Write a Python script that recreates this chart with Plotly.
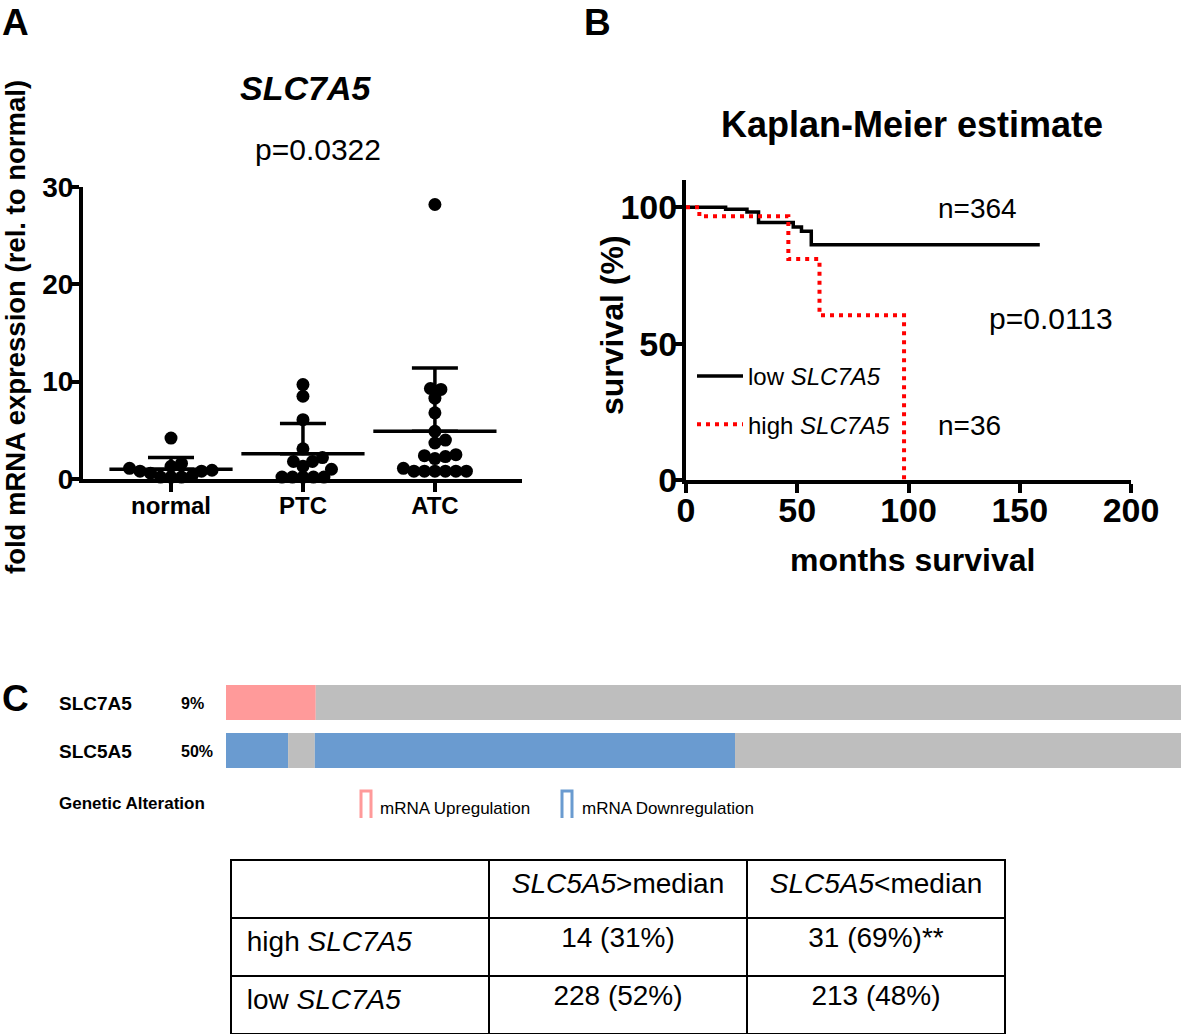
import plotly.graph_objects as go

FONT = "Liberation Sans, Arial, Helvetica, sans-serif"
W, H = 1181, 1035

# ---------------- Panel A data ----------------
groups = ["normal", "PTC", "ATC"]
normal_vals = [4.2, 1.6, 1.3, 1.1, 0.9, 0.8, 0.8, 0.6, 0.3, 0.2, 0.2, 0.2]
ptc_vals = [9.7, 8.5, 6.1, 3.1, 2.2, 1.8, 1.3, 1.8, 1.0, 0.2, 0.2, 0.2, 0.2, 0.2]
atc_vals = [28.2, 9.2, 9.3, 8.3, 6.8, 4.9, 4.0, 3.7, 2.5, 2.1, 2.3, 2.4, 1.1,
            0.8, 0.8, 0.8, 0.8, 0.8, 0.8]
group_means = [1.0, 2.6, 4.9]
group_sds = [1.2, 3.1, 6.5]
sig_pair = ["normal", "ATC"]
sig_level = 30.8
sig_text = "p=0.0322"

# ---------------- Panel B data ----------------
low_t = [0, 17.8, 27.4, 32.6, 48.2, 51.9, 56.3, 159]
low_s = [100, 99.3, 98.3, 94.4, 92.8, 91.2, 86.3, 86.3]
high_t = [0, 6, 46, 60, 98]
high_s = [100, 96.7, 81, 60.4, 0]
km_names = ["low <i>SLC7A5</i>", "high <i>SLC7A5</i>"]
km_notes = ["n=364", "p=0.0113", "n=36"]

# ---------------- Panel C data ----------------
onco_genes = ["SLC7A5", "SLC5A5"]
onco_freq = ["9%", "50%"]
onco_gene = ["SLC7A5", "SLC7A5", "SLC5A5", "SLC5A5", "SLC5A5", "SLC5A5"]
onco_state = ["up", "none", "down", "none", "down", "none"]
onco_pct = [9.4, 90.6, 6.5, 2.8, 44.0, 46.7]

table_header = ["", "<i>SLC5A5</i>&gt;median", "<i>SLC5A5</i>&lt;median"]
table_rows = ["high <i>SLC7A5</i>", "low <i>SLC7A5</i>"]
table_gt = ["14 (31%)", "228 (52%)"]
table_lt = ["31 (69%)**", "213 (48%)"]

# ---------------- helpers ----------------
def X(px):
    return px / W


def Y(py):
    return 1 - py / H


A_YPX = 292 / 30.0      # px per unit on panel A y axis
A_XPX = 132.0           # px per category


def swarm(vals, d=10.5):
    placed = []
    offs = [0.0] * len(vals)
    order = sorted(range(len(vals)), key=lambda i: vals[i])
    for i in order:
        y = vals[i] * A_YPX
        best = None
        step = 0
        while best is None:
            cands = [0.0] if step == 0 else [step * 0.5, -step * 0.5]
            for s in cands:
                if all((s - px) ** 2 + (y - py) ** 2 >= d * d for px, py in placed):
                    best = s
                    break
            step += 1
        placed.append((best, y))
        offs[i] = best
    return [o / A_XPX for o in offs]


fig = go.Figure()

# ---------------- Panel A ----------------
for gi, vals in enumerate([normal_vals, ptc_vals, atc_vals]):
    offs = swarm(vals)
    fig.add_trace(go.Scatter(
        x=[gi + o for o in offs], y=vals, mode="markers",
        marker=dict(color="black", size=13, line=dict(width=0)),
        cliponaxis=False, showlegend=False, xaxis="x", yaxis="y"))

fig.add_trace(go.Scatter(
    x=list(range(len(groups))), y=group_means, mode="markers",
    marker=dict(symbol="line-ew", size=88, color="black",
                line=dict(color="black", width=3.5)),
    error_y=dict(type="data", symmetric=False, array=group_sds,
                 arrayminus=[0] * len(group_sds), color="black",
                 thickness=3.5, width=23),
    cliponaxis=False, showlegend=False, xaxis="x", yaxis="y"))

fig.add_trace(go.Scatter(
    x=[groups.index(sig_pair[0]) - 0.02, groups.index(sig_pair[1]) + 0.02],
    y=[sig_level, sig_level], mode="lines",
    line=dict(color="black", width=4.5),
    cliponaxis=False, showlegend=False, xaxis="x", yaxis="y"))

# ---------------- Panel B ----------------
fig.add_trace(go.Scatter(
    x=low_t, y=low_s, mode="lines", line=dict(color="black", width=3.5, shape="hv"),
    name=km_names[0], legendgroup="low", xaxis="x2", yaxis="y2", cliponaxis=False))
fig.add_trace(go.Scatter(
    x=high_t, y=high_s, mode="lines",
    line=dict(color="#ff0000", width=4, shape="hv", dash="4px,5px"),
    name=km_names[1], legendgroup="high", xaxis="x2", yaxis="y2", cliponaxis=False))

# ---------------- Panel C oncoprint ----------------
color_map = {"up": "#ff9a9a", "down": "#6a9bd0", "none": "#bebebe"}
bases = []
running = {}
for g, p in zip(onco_gene, onco_pct):
    b = running.get(g, 0.0)
    bases.append(b)
    running[g] = b + p
fig.add_trace(go.Bar(
    y=[onco_genes.index(g) for g in onco_gene], x=onco_pct, base=bases,
    orientation="h", width=0.73,
    marker=dict(color=[color_map[s] for s in onco_state], line=dict(width=0)),
    showlegend=False, xaxis="x3", yaxis="y3", hoverinfo="skip"))

# ---------------- Table ----------------
fig.add_trace(go.Table(
    domain=dict(x=[X(231), X(1005)], y=[0, Y(860)]),
    columnwidth=[1, 1, 1],
    header=dict(values=table_header, height=58,
                align=["left", "center", "center"],
                fill=dict(color="white"), line=dict(color="black", width=2),
                font=dict(family=FONT, size=28, color="black")),
    cells=dict(values=[["&nbsp;" + r for r in table_rows], table_gt, table_lt],
               height=58, align=["left", "center", "center"],
               fill=dict(color="white"), line=dict(color="black", width=2),
               font=dict(family=FONT, size=28, color="black")),
))

bold = dict(family=FONT, color="black", weight="bold")

layout_axes = dict(
    xaxis=dict(domain=[X(83), X(522)], range=[-0.667, 2.66],
               tickvals=list(range(len(groups))), ticktext=groups,
               showline=True, linecolor="black", linewidth=4,
               ticks="outside", ticklen=9, tickwidth=4, tickcolor="black",
               tickfont=dict(size=24, **bold), showgrid=False, zeroline=False,
               ticklabelstandoff=-7,
               layer="below traces", anchor="y", automargin=False),
    yaxis=dict(domain=[Y(479), Y(187)], range=[0, 30], tickvals=[0, 10, 20, 30],
               showline=True, linecolor="black", linewidth=4,
               ticks="outside", ticklen=9, tickwidth=4, tickcolor="black",
               tickfont=dict(size=28, **bold), showgrid=False, zeroline=False,
               ticklabelstandoff=-9,
               layer="below traces", anchor="x", automargin=False),
    xaxis2=dict(domain=[X(686), X(1131)], range=[0, 200], tickvals=[0, 50, 100, 150, 200],
                showline=True, linecolor="black", linewidth=4,
                ticks="outside", ticklen=9, tickwidth=4, tickcolor="black",
                tickfont=dict(size=34, **bold), showgrid=False, zeroline=False,
                ticklabelstandoff=-12,
                anchor="y2", automargin=False),
    yaxis2=dict(domain=[Y(480), Y(180)], range=[0, 110], tickvals=[0, 50, 100],
                showline=True, linecolor="black", linewidth=4,
                ticks="outside", ticklen=9, tickwidth=4, tickcolor="black",
                tickfont=dict(size=34, **bold), showgrid=False, zeroline=False,
                ticklabelstandoff=-11,
                anchor="x2", automargin=False),
    xaxis3=dict(domain=[X(226), 1.0], range=[0, 100], visible=False, anchor="y3",
                automargin=False),
    yaxis3=dict(domain=[Y(774.5), Y(678.5)], range=[1.5, -0.5], visible=False,
                anchor="x3", automargin=False),
)

ann = []


def add_text(text, px, py, size, xanchor="center", weight="normal", angle=0,
             yanchor="middle"):
    ann.append(dict(text=text, x=X(px), y=Y(py), xref="paper", yref="paper",
                    xanchor=xanchor, yanchor=yanchor, showarrow=False, textangle=angle,
                    font=dict(family=FONT, size=size, color="black", weight=weight)))


# panel letters
add_text("A", 0, 0, 37, "left", "bold", yanchor="top")
add_text("B", 582, 0, 37, "left", "bold", yanchor="top")
add_text("C", 0, 698, 37, "left", "bold")

# panel A texts
add_text("<i>SLC7A5</i>", 305, 88, 34, weight="bold")
add_text(sig_text, 318, 150, 30)
add_text("fold mRNA expression (rel. to normal)", 15, 327, 27.5, weight="bold", angle=-90)

# panel B texts
add_text("Kaplan-Meier estimate", 912, 125, 36, weight="bold")
add_text("survival (%)", 612, 325, 32, weight="bold", angle=-90)
add_text("months survival", 912, 560, 32, weight="bold")
add_text(km_notes[0], 977, 208, 28)
add_text(km_notes[1], 1051, 318, 30)
add_text(km_notes[2], 969, 425, 28)

# panel C texts
for i, (g, f) in enumerate(zip(onco_genes, onco_freq)):
    add_text(g, 57, 703 + 48 * i, 19, "left", "bold")
    add_text(f, 179, 703 + 48 * i, 16, "left", "bold")
add_text("Genetic Alteration", 57, 803, 17, "left", "bold")
add_text("mRNA Upregulation", 378, 808, 17, "left")
add_text("mRNA Downregulation", 580, 808, 17, "left")

shapes = []
for x0, col in [(361, color_map["up"]), (562, color_map["down"])]:
    shapes.append(dict(type="path", xref="paper", yref="paper",
                       path=f"M {X(x0)} {Y(818)} L {X(x0)} {Y(791)} L {X(x0 + 10)} {Y(791)} L {X(x0 + 10)} {Y(818)}",
                       line=dict(color=col, width=3)))

fig.update_layout(
    template="none",
    width=W, height=H, margin=dict(l=0, r=0, t=0, b=0, pad=0, autoexpand=False),
    paper_bgcolor="white", plot_bgcolor="white",
    font=dict(family=FONT, color="black"),
    annotations=ann, shapes=shapes,
    legend=dict(x=X(692), y=Y(354), xanchor="left", yanchor="top",
                bgcolor="rgba(0,0,0,0)", font=dict(family=FONT, size=24, color="black"),
                traceorder="grouped", tracegroupgap=14, itemwidth=46),
    **layout_axes,
)

fig.write_html(
    "out.html",
    config={"displayModeBar": False},
    post_script="document.body.style.margin='0';document.body.style.overflow='hidden';",
)
